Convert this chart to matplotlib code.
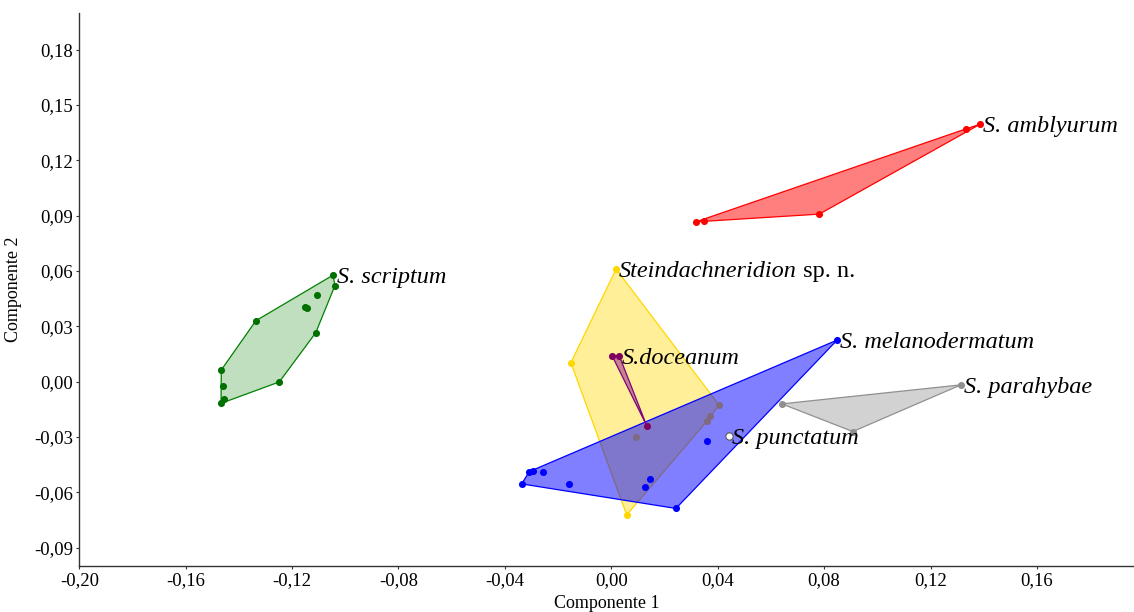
import matplotlib.pyplot as plt
from matplotlib.ticker import FuncFormatter, MultipleLocator

plt.rcParams['font.family'] = ['Liberation Serif', 'DejaVu Serif']

# PCA scores, one pair of lists per species
scriptum_x = [-0.1046, -0.1039, -0.1108, -0.1150, -0.1145, -0.1336, -0.1111, -0.1466, -0.1461, -0.1248, -0.1456, -0.1467]
scriptum_y = [0.0577, 0.0520, 0.0467, 0.0406, 0.0397, 0.0330, 0.0265, 0.0063, -0.0024, -0.0002, -0.0093, -0.0118]

amblyurum_x = [0.0318, 0.0348, 0.0782, 0.1333, 0.1386]
amblyurum_y = [0.0866, 0.0872, 0.0908, 0.1370, 0.1395]

spnov_x = [0.0018, -0.0152, 0.0405, 0.0371, 0.0361, 0.0093, 0.0058]
spnov_y = [0.0610, 0.0102, -0.0127, -0.0186, -0.0212, -0.0302, -0.0723]

melano_x = [-0.0337, -0.0308, -0.0293, -0.0256, -0.0158, 0.0145, 0.0128, 0.0243, 0.0359, 0.0849]
melano_y = [-0.0555, -0.0488, -0.0484, -0.0488, -0.0555, -0.0529, -0.0573, -0.0688, -0.0320, 0.0225]

doceanum_x = [0.0003, 0.0030, 0.0133]
doceanum_y = [0.0140, 0.0140, -0.0239]

parahybae_x = [0.0641, 0.1314, 0.0908]
parahybae_y = [-0.0121, -0.0018, -0.0271]

punctatum_x = [0.0444]
punctatum_y = [-0.0295]


def hull(xs, ys):
    # monotone chain convex hull
    pts = sorted(set(zip(xs, ys)))
    if len(pts) < 3:
        return pts

    def cross(o, a, b):
        return (a[0] - o[0]) * (b[1] - o[1]) - (a[1] - o[1]) * (b[0] - o[0])

    lower, upper = [], []
    for p in pts:
        while len(lower) >= 2 and cross(lower[-2], lower[-1], p) <= 0:
            lower.pop()
        lower.append(p)
    for p in reversed(pts):
        while len(upper) >= 2 and cross(upper[-2], upper[-1], p) <= 0:
            upper.pop()
        upper.append(p)
    return lower[:-1] + upper[:-1]


fig = plt.figure(figsize=(11.34, 6.12), dpi=100)
ax = fig.add_axes([0.0699, 0.0752, 0.9301, 0.904])

groups = [
    (scriptum_x, scriptum_y, '#008000', 0.25, '#007000'),
    (amblyurum_x, amblyurum_y, '#ff0000', 0.5, '#ff0000'),
    (spnov_x, spnov_y, '#ffd700', 0.4, '#ffd700'),
    (melano_x, melano_y, '#0000ff', 0.5, '#0000ff'),
    (doceanum_x, doceanum_y, '#800080', 0.45, '#800060'),
    (parahybae_x, parahybae_y, '#909090', 0.4, '#909090'),
]

# each group stacked above the previous one, so the blue hull covers the yellow dots
for i, (xs, ys, c, a, dot) in enumerate(groups):
    z = 2 + i
    poly = hull(xs, ys)
    px = [p[0] for p in poly]
    py = [p[1] for p in poly]
    ax.fill(px, py, color=c, alpha=a, lw=0, zorder=z)
    ax.fill(px, py, fill=False, ec=c, lw=0.9, zorder=z)
    ax.scatter(xs, ys, s=26, color=dot, lw=0, zorder=z)

ax.scatter(punctatum_x, punctatum_y, s=28, color='white', edgecolors='#555555', lw=0.8, zorder=10)

lab = dict(fontsize=17.5, style='italic', va='center_baseline', ha='left',
           textcoords='offset points', zorder=11)
ax.annotate('S. scriptum', (scriptum_x[0], scriptum_y[0]), xytext=(3, 0), **lab)
ax.annotate('S. amblyurum', (amblyurum_x[-1], amblyurum_y[-1]), xytext=(2, 0), **lab)
t = ax.annotate('Steindachneridion', (spnov_x[0], spnov_y[0]), xytext=(2, 0), **lab)
ax.annotate(' sp. n.', xy=(1, 0), xycoords=t, fontsize=17.5, va='bottom', ha='left', zorder=11)
ax.annotate('S.doceanum', (doceanum_x[1], doceanum_y[1]), xytext=(2, 0), **lab)
ax.annotate('S. melanodermatum', (melano_x[-1], melano_y[-1]), xytext=(2, 0), **lab)
ax.annotate('S. parahybae', (parahybae_x[1], parahybae_y[1]), xytext=(2, 0), **lab)
ax.annotate('S. punctatum', (punctatum_x[0], punctatum_y[0]), xytext=(2, 0), **lab)

ax.set_xlim(-0.20, 0.1965)
ax.set_ylim(-0.10, 0.20)
ax.xaxis.set_major_locator(MultipleLocator(0.04))
ax.set_yticks([-0.09, -0.06, -0.03, 0.0, 0.03, 0.06, 0.09, 0.12, 0.15, 0.18])
comma = FuncFormatter(lambda v, p: ('%.2f' % v).replace('.', ',').replace('-0,00', '0,00'))
ax.xaxis.set_major_formatter(comma)
ax.yaxis.set_major_formatter(comma)
ax.tick_params(labelsize=13.5, length=2.5, width=0.8, color='#333333', pad=2)

for s in ['top', 'right']:
    ax.spines[s].set_visible(False)
for s in ['left', 'bottom']:
    ax.spines[s].set_color('#333333')
    ax.spines[s].set_linewidth(1.0)

ax.set_xlabel('Componente 1', fontsize=13, labelpad=4)
ax.set_ylabel('Componente 2', fontsize=13, labelpad=9)

fig.savefig('out.png', dpi=100)
